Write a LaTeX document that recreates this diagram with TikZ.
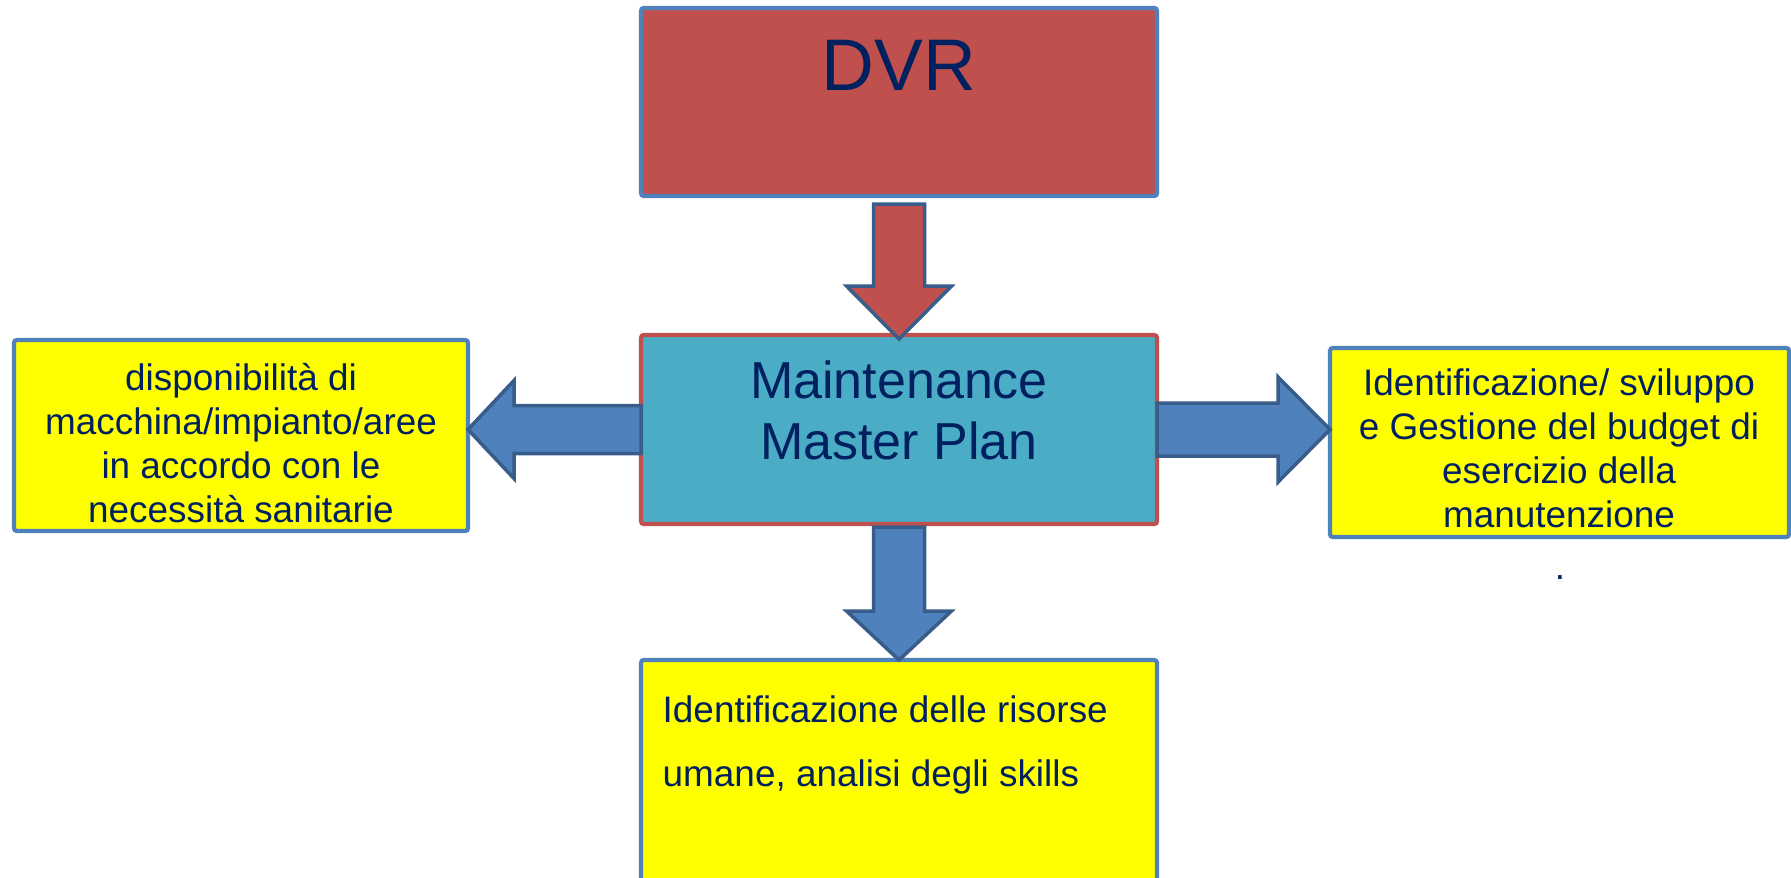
\documentclass[tikz,border=0pt]{standalone}
\usepackage{fontspec}
\setmainfont{Liberation Sans}
\usepackage{xcolor}
\usetikzlibrary{calc}
\definecolor{boxred}{HTML}{C0504D}
\definecolor{boxblue}{HTML}{4F81BD}
\definecolor{boxcyan}{HTML}{4BACC6}
\definecolor{boxyellow}{HTML}{FFFF00}
\definecolor{arrowedge}{HTML}{385D8A}
\definecolor{navy}{HTML}{002060}

\begin{document}
\begin{tikzpicture}
\tikzstyle{plainbox} =[rectangle, draw, line width=1.2pt, inner sep=0pt, outer sep=0pt, rounded corners=0.8pt]
\tikzstyle{redbox} =[plainbox, fill=boxred, draw=boxblue, minimum width=5.16cm, minimum height=1.88cm]
\tikzstyle{cyanbox} =[plainbox, fill=boxcyan, draw=boxred, minimum width=5.16cm, minimum height=1.89cm]
\tikzstyle{yellowbox} =[plainbox, fill=boxyellow, draw=boxblue]
\tikzstyle{boxtext} =[text=navy, inner sep=0pt, align=center, font=\fontsize{10.5}{12.5}\selectfont]
\tikzset{blockarrow/.style 2 args={fill=#1, draw=#2, line width=1pt, line join=miter}}

\useasboundingbox (0,0) rectangle (17.91,-8.77);

% boxes
\node[redbox](dvr) at (8.99,-1.02){};
\node[cyanbox](mmp) at (8.99,-4.295){};
\node[yellowbox, minimum width=4.54cm, minimum height=1.91cm](need) at (2.41,-4.355){};
\node[yellowbox, minimum width=4.59cm, minimum height=1.89cm](budget) at (15.595,-4.425){};
\node[yellowbox, minimum width=5.16cm, minimum height=2.5cm](risorse) at (8.99,-7.85){};

% texts
\node[boxtext, font=\fontsize{20.8}{25}\selectfont](dvrlabel) at (8.99,-0.65){DVR};
\node[boxtext, font=\fontsize{14.8}{17.4}\selectfont](mmplabel) at (8.99,-4.105){Maintenance\\Master Plan};
\node[boxtext](needlabel) at (2.41,-4.43){disponibilità di\\macchina/impianto/aree\\in accordo con le\\necessità sanitarie};
\node[boxtext](budgetlabel) at (15.59,-4.48){Identificazione/ sviluppo\\e Gestione del budget di\\esercizio della\\manutenzione};
\node[boxtext, align=left, anchor=west, font=\fontsize{10.5}{18.2}\selectfont](risorselabel) at (6.62,-7.45){Identificazione delle risorse\\umane, analisi degli skills};
\node[boxtext](dot) at (15.60,-5.78){.};

% block arrows
\draw[blockarrow={boxred}{arrowedge}] ($(dvr.south)+(-0.255,-0.08)$) -- ++(0,-0.82) -- ++(-0.27,0)
  -- ($(mmp.north)+(0,-0.04)$) -- ++(0.525,0.53) -- ++(-0.27,0) -- ++(0,0.82) -- cycle;
\draw[blockarrow={boxblue}{arrowedge}] ($(mmp.south)+(-0.255,-0.03)$) -- ++(0,-0.84) -- ++(-0.27,0)
  -- (risorse.north) -- ++(0.525,0.49) -- ++(-0.27,0) -- ++(0,0.84) -- cycle;
\draw[blockarrow={boxblue}{arrowedge}] ($(mmp.west)+(0,0.24)$) -- ++(-1.27,0) -- ++(0,0.25)
  -- (need.east |- mmp.west) -- ++(0.46,-0.49) -- ++(0,0.25) -- ($(mmp.west)+(0,-0.24)$) -- cycle;
\draw[blockarrow={boxblue}{arrowedge}] ($(mmp.east)+(0,0.265)$) -- ++(1.21,0) -- ++(0,0.26)
  -- (budget.west |- mmp.east) -- ++(-0.52,-0.525) -- ++(0,0.26) -- ($(mmp.east)+(0,-0.265)$) -- cycle;
\end{tikzpicture}
\end{document}
